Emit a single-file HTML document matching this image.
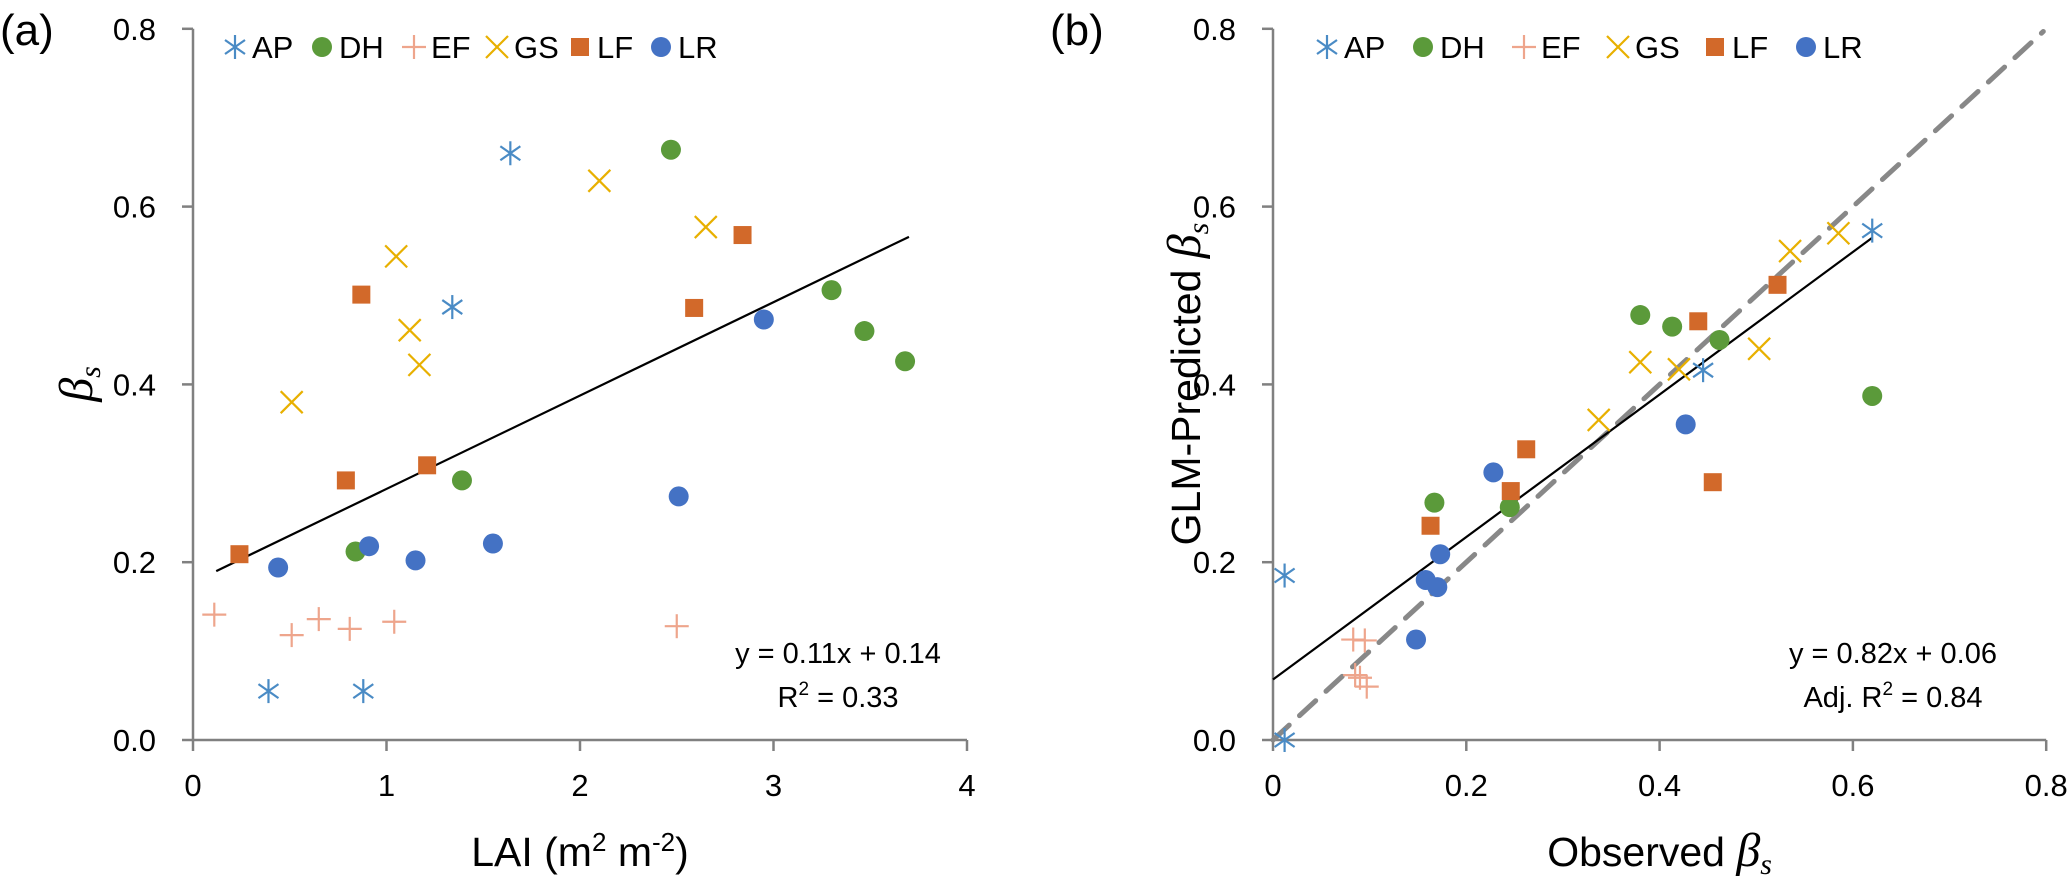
<!DOCTYPE html>
<html><head><meta charset="utf-8"><style>
html,body{margin:0;padding:0;background:#fff;}
svg{display:block;font-family:"Liberation Sans",sans-serif;}
</style></head><body>
<svg id="fig" width="2067" height="884" viewBox="0 0 2067 884" xmlns="http://www.w3.org/2000/svg"></svg>
<script>
// ---------- Panel (a) data: LAI vs beta_s ----------
const aAP_x=[0.39,0.88,1.34,1.64];           const aAP_y=[0.055,0.055,0.487,0.66];
const aDH_x=[0.84,1.39,2.47,3.30,3.47,3.68]; const aDH_y=[0.212,0.292,0.664,0.506,0.46,0.426];
const aEF_x=[0.11,0.51,0.65,0.81,1.04,2.50]; const aEF_y=[0.141,0.118,0.136,0.125,0.133,0.128];
const aGS_x=[0.51,1.05,1.12,1.17,2.10,2.65]; const aGS_y=[0.38,0.544,0.461,0.422,0.629,0.577];
const aLF_x=[0.24,0.79,0.87,1.21,2.59,2.84]; const aLF_y=[0.209,0.292,0.501,0.309,0.486,0.568];
const aLR_x=[0.44,0.91,1.15,1.55,2.51,2.95]; const aLR_y=[0.194,0.218,0.202,0.221,0.274,0.473];
const aFit_x=[0.12,3.70]; const aFit_y=[0.19,0.566];
const aXTicks=["0","1","2","3","4"]; const aXTickVals=[0,1,2,3,4];
// ---------- Panel (b) data: observed vs predicted ----------
const bAP_x=[0.012,0.012,0.445,0.62];  const bAP_y=[0.185,0.0,0.416,0.573];
const bDH_x=[0.167,0.245,0.38,0.413,0.462,0.62]; const bDH_y=[0.267,0.262,0.478,0.465,0.45,0.387];
const bEF_x=[0.083,0.095,0.085,0.097,0.09]; const bEF_y=[0.113,0.112,0.073,0.06,0.07];
const bGS_x=[0.337,0.38,0.42,0.503,0.535,0.585]; const bGS_y=[0.36,0.425,0.417,0.44,0.55,0.57];
const bLF_x=[0.163,0.246,0.262,0.44,0.455,0.522]; const bLF_y=[0.241,0.28,0.327,0.471,0.29,0.512];
const bLR_x=[0.148,0.158,0.17,0.173,0.228,0.427]; const bLR_y=[0.113,0.18,0.172,0.209,0.301,0.355];
const bFit_x=[0.0,0.62]; const bFit_y=[0.068,0.565];
const bOne_x=[0.0,0.797]; const bOne_y=[0.0,0.797];
const bXTicks=["0","0.2","0.4","0.6","0.8"]; const bXTickVals=[0,0.2,0.4,0.6,0.8];
const yTicks=["0.0","0.2","0.4","0.6","0.8"]; const yTickVals=[0,0.2,0.4,0.6,0.8];

const NS="http://www.w3.org/2000/svg";
const svg=document.getElementById('fig');
const COL={AP:"#4a8bc5",DH:"#5b9a3a",EF:"#eea58c",GS:"#e8b000",LF:"#d2692a",LR:"#4472c4"};
function mk(tag,attrs,parent){const e=document.createElementNS(NS,tag);for(const k in attrs)e.setAttribute(k,attrs[k]);(parent||svg).appendChild(e);return e;}
const Y=v=>740-v*889;
const XA=v=>193+v*193.5;
const XB=v=>1273+v*966.5;

function marker(type,cx,cy,g){
  const c=COL[type];
  if(type==="AP"){mk('line',{x1:cx,y1:cy-12,x2:cx,y2:cy+12,stroke:c,'stroke-width':2.2},g);
    mk('line',{x1:cx-10,y1:cy-7,x2:cx+10,y2:cy+7,stroke:c,'stroke-width':2.2},g);
    mk('line',{x1:cx-10,y1:cy+7,x2:cx+10,y2:cy-7,stroke:c,'stroke-width':2.2},g);}
  else if(type==="DH"||type==="LR"){mk('circle',{cx:cx,cy:cy,r:10,fill:c},g);}
  else if(type==="EF"){mk('line',{x1:cx-12,y1:cy,x2:cx+12,y2:cy,stroke:c,'stroke-width':2.2},g);
    mk('line',{x1:cx,y1:cy-12,x2:cx,y2:cy+12,stroke:c,'stroke-width':2.2},g);}
  else if(type==="GS"){mk('line',{x1:cx-11,y1:cy-11,x2:cx+11,y2:cy+11,stroke:c,'stroke-width':2.2},g);
    mk('line',{x1:cx-11,y1:cy+11,x2:cx+11,y2:cy-11,stroke:c,'stroke-width':2.2},g);}
  else if(type==="LF"){mk('rect',{x:cx-9,y:cy-9,width:18,height:18,fill:c},g);}
}

function panel(X,x0,xTicks,xVals,series,fit,one,legendX,label,labelX,eq1,eq2,eqX,xTitle,yTitleX,yTitle,pname){
  const g=mk('g',{});
  
  
  const axes=mk('g',{},g);
  
  
  mk('line',{x1:x0,y1:Y(0.8),x2:x0,y2:Y(0),stroke:"#808080",'stroke-width':2.5},axes);
  mk('line',{x1:x0,y1:Y(0),x2:X(xVals[xVals.length-1]),y2:Y(0),stroke:"#808080",'stroke-width':2.5},axes);
  yTicks.forEach((t,i)=>{const y=Y(yTickVals[i]);
    mk('line',{x1:x0-11,y1:y,x2:x0,y2:y,stroke:"#808080",'stroke-width':2.5},axes);
    const tx=mk('text',{x:x0-37,y:y+11,'text-anchor':'end','font-size':31,fill:'#000'},axes);tx.textContent=t;
    
    });
  xTicks.forEach((t,i)=>{const x=X(xVals[i]);
    mk('line',{x1:x,y1:Y(0),x2:x,y2:Y(0)+11,stroke:"#808080",'stroke-width':2.5},axes);
    const tx=mk('text',{x:x,y:796,'text-anchor':'middle','font-size':31,fill:'#000'},axes);tx.textContent=t;
    
    });
  // fit lines
  if(one){const l=mk('line',{x1:X(one[0][0]),y1:Y(one[1][0]),x2:X(one[0][1]),y2:Y(one[1][1]),stroke:"#888",'stroke-width':5,'stroke-dasharray':'22,14','stroke-linecap':'round'},g);
    
    }
  const fl=mk('line',{x1:X(fit[0][0]),y1:Y(fit[1][0]),x2:X(fit[0][1]),y2:Y(fit[1][1]),stroke:"#000",'stroke-width':2.2},g);
  
  
  // points
  series.forEach(s=>{const sg=mk('g',{},g);
    
    
    s.x.forEach((v,i)=>marker(s.k,X(v),Y(s.y[i]),sg));});
  // legend
  const lg=mk('g',{},g);
  
  
  series.forEach((s,i)=>{const e=mk('g',{},lg);
    
    
    marker(s.k,legendX[i],47,e);
    const t=mk('text',{x:legendX[i]+17,y:58,'font-size':31,fill:'#000'},e);t.textContent=s.k;});
  const pl=mk('text',{x:labelX,y:45,'font-size':44,fill:'#000'},g);pl.textContent=label;
  
  
  const e1=mk('text',{x:eqX,y:663,'text-anchor':'middle','font-size':29,fill:'#000'},g);e1.textContent=eq1;
  
  
  const e2=mk('text',{x:eqX,y:707,'text-anchor':'middle','font-size':29,fill:'#000'},g);e2.innerHTML=eq2;
  
  
  const xt=mk('text',{x:(x0+X(xVals[xVals.length-1]))/2,y:866,'text-anchor':'middle','font-size':41,fill:'#000'},g);xt.innerHTML=xTitle;
  
  
  const yt=mk('text',{x:0,y:0,'text-anchor':'middle','font-size':41,fill:'#000',transform:`translate(${yTitleX},384) rotate(-90)`},g);yt.innerHTML=yTitle;
  
  
}
const beta='<tspan font-family="Liberation Serif" font-style="italic" font-size="48">β</tspan><tspan font-family="Liberation Serif" font-style="italic" font-size="30" dy="8">s</tspan>';
panel(XA,193,aXTicks,aXTickVals,
 [{k:"AP",x:aAP_x,y:aAP_y},{k:"DH",x:aDH_x,y:aDH_y},{k:"EF",x:aEF_x,y:aEF_y},{k:"GS",x:aGS_x,y:aGS_y},{k:"LF",x:aLF_x,y:aLF_y},{k:"LR",x:aLR_x,y:aLR_y}],
 [aFit_x,aFit_y],null,[235,322,414,497,580,661],"(a)",0,
 "y = 0.11x + 0.14",'R<tspan font-size="19" dy="-12">2</tspan><tspan dy="12"> = 0.33</tspan>',838,
 'LAI (m<tspan font-size="26" dy="-15">2</tspan><tspan dy="15"> m</tspan><tspan font-size="26" dy="-15">-2</tspan><tspan dy="15">)</tspan>',
 92,beta,"panel-a");
panel(XB,1273,bXTicks,bXTickVals,
 [{k:"AP",x:bAP_x,y:bAP_y},{k:"DH",x:bDH_x,y:bDH_y},{k:"EF",x:bEF_x,y:bEF_y},{k:"GS",x:bGS_x,y:bGS_y},{k:"LF",x:bLF_x,y:bLF_y},{k:"LR",x:bLR_x,y:bLR_y}],
 [bFit_x,bFit_y],[bOne_x,bOne_y],[1327,1423,1524,1618,1715,1806],"(b)",1050,
 "y = 0.82x + 0.06",'Adj. R<tspan font-size="19" dy="-12">2</tspan><tspan dy="12"> = 0.84</tspan>',1893,
 'Observed '+beta,1200,'GLM-Predicted '+beta,"panel-b");
</script>
</body></html>
